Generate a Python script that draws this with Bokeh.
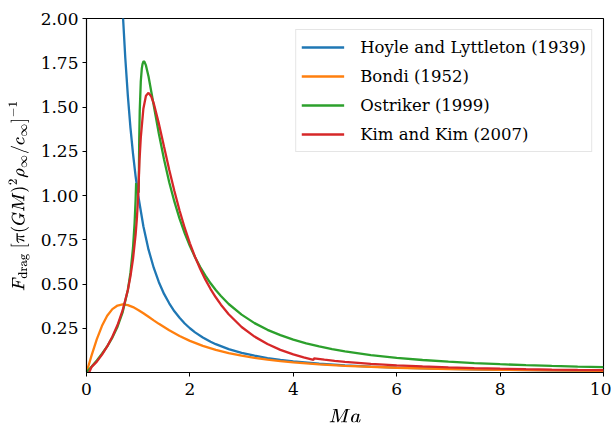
from bokeh.plotting import figure
from bokeh.models import Range1d, FixedTicker, PrintfTickFormatter, Legend, LegendItem
from bokeh.embed import file_html
from bokeh.resources import INLINE

nan = float("nan")

# Hoyle and Lyttleton (1939)
ma_hl = [0.5, 0.6, 0.7, 0.75, 0.8, 0.85, 0.9, 0.95, 1.0, 1.1, 1.2, 1.3, 1.4, 1.5,
         1.6, 1.7, 1.8, 1.9, 2.0, 2.1, 2.25, 2.4, 2.5, 2.75, 3.0, 3.25, 3.5, 3.75, 4.0,
         4.5, 5.0, 5.5, 6.0, 7.0, 8.0, 9.0, 10.0]
f_hl = [4.0, 2.778, 2.041, 1.778, 1.563, 1.384, 1.235, 1.108, 1.0, 0.826, 0.694, 0.592,
        0.510, 0.444, 0.391, 0.346, 0.309, 0.277, 0.25, 0.2268, 0.198, 0.1736, 0.16,
        0.132, 0.111, 0.0947, 0.0816, 0.0711, 0.0625, 0.0494, 0.04, 0.0331, 0.0278,
        0.0204, 0.0156, 0.0123, 0.01]

# Bondi (1952)
ma_b = [0, 0.1, 0.2, 0.3, 0.4, 0.5, 0.6, 0.7, 0.8, 0.9, 1.0, 1.1, 1.2, 1.3, 1.4, 1.6,
        1.8, 2.0, 2.25, 2.5, 2.75, 3.0, 3.25, 3.5, 3.75, 4.0, 4.5, 5, 6, 7, 8, 9, 10]
f_b = [0, 0.0985, 0.1886, 0.2636, 0.3202, 0.3578, 0.3783, 0.3849, 0.3809, 0.3696,
       0.3536, 0.3348, 0.3148, 0.2947, 0.2749, 0.2382, 0.2062, 0.1789, 0.1507, 0.1281,
       0.1098, 0.0949, 0.0827, 0.0726, 0.0641, 0.0571, 0.0459, 0.0377, 0.0267, 0.0198,
       0.0153, 0.0121, 0.0099]

# Ostriker (1999)
ma_o = [0, 0.1, 0.2, 0.3, 0.4, 0.5, 0.6, 0.7, 0.8, 0.85, 0.9, 0.93, 0.95, 0.96, nan,
        1.01, 1.02, 1.03, 1.05, 1.07, 1.085, 1.1, 1.11, 1.12, 1.15, 1.2, 1.3, 1.4, 1.5,
        1.6, 1.7, 1.8, 1.9, 2.0, 2.1, 2.2, 2.3, 2.4, 2.5, 2.6, 2.75, 3.0, 3.25, 3.5,
        3.75, 4.0, 4.25, 4.5, 4.75, 5, 5.5, 6, 6.5, 7, 7.5, 8, 8.5, 9, 9.5, 10]
f_o = [0, 0.0335, 0.0684, 0.1058, 0.1478, 0.1972, 0.2587, 0.3414, 0.4666, 0.5622,
       0.7064, 0.8422, 0.977, 1.070, nan, 1.016, 1.322, 1.481, 1.644, 1.718, 1.744,
       1.756, 1.757, 1.756, 1.735, 1.672, 1.510, 1.349, 1.203, 1.075, 0.965, 0.869,
       0.786, 0.714, 0.651, 0.596, 0.547, 0.504, 0.466, 0.432, 0.387, 0.327, 0.279,
       0.241, 0.211, 0.1855, 0.1645, 0.147, 0.132, 0.119, 0.0986, 0.0829, 0.0707,
       0.0610, 0.0532, 0.0468, 0.0414, 0.0370, 0.0332, 0.0299]

# Kim and Kim (2007)
ma_k = [0.05, 0.1, 0.2, 0.3, 0.4, 0.5, 0.6, 0.7, 0.8, 0.85, 0.9, 0.95, 0.975, 1.0,
        1.025, 1.05, 1.1, 1.15, 1.2, 1.25, 1.3, 1.4, 1.5, 1.6, 1.7, 1.8, 1.9, 2.0, 2.1,
        2.2, 2.3, 2.4, 2.5, 2.6, 2.75, 3.0, 3.25, 3.5, 3.75, 4.0, 4.2, 4.39, 4.4, 4.6,
        4.8, 5, 5.5, 6, 6.5, 7, 7.5, 8, 8.5, 9, 9.5, 10]
f_k = [0.0, 0.032, 0.0617, 0.1007, 0.1473, 0.202, 0.2682, 0.3519, 0.4662, 0.5429,
       0.642, 0.779, 0.8717, 1.0, 1.197, 1.327, 1.490, 1.563, 1.580, 1.561, 1.521,
       1.406, 1.275, 1.146, 1.025, 0.915, 0.8165, 0.730, 0.6525, 0.5846, 0.5246,
       0.4716, 0.425, 0.383, 0.329, 0.257, 0.2028, 0.161, 0.1279, 0.102, 0.0852,
       0.0717, 0.0798, 0.0725, 0.0662, 0.0606, 0.0492, 0.0407, 0.0341, 0.0290, 0.0248,
       0.0215, 0.0187, 0.0164, 0.0145, 0.0129]

labels = ["Hoyle and Lyttleton (1939)", "Bondi (1952)", "Ostriker (1999)", "Kim and Kim (2007)"]
colors = ["#1f77b4", "#ff7f0e", "#2ca02c", "#d62728"]
x_ticks = [0, 2, 4, 6, 8, 10]
y_ticks = [0.25, 0.5, 0.75, 1.0, 1.25, 1.5, 1.75, 2.0]

FONT = "DejaVu Serif"

p = figure(width=611, height=428, output_backend="svg", toolbar_location=None,
           x_range=Range1d(0, 10), y_range=Range1d(0, 2),
           min_border_left=86, min_border_right=8, min_border_top=18, min_border_bottom=53)
p.background_fill_color = "white"
p.border_fill_color = "white"
p.xgrid.visible = False
p.ygrid.visible = False
p.outline_line_color = "black"
p.outline_line_width = 1.1

series = [(ma_hl, f_hl), (ma_b, f_b), (ma_o, f_o), (ma_k, f_k)]
renderers = []
for (xs, ys), c in zip(series, colors):
    r = p.line(xs, ys, line_color=c, line_width=2.3)
    renderers.append(r)

for ax in (p.xaxis[0], p.yaxis[0]):
    ax.axis_line_color = "black"
    ax.axis_line_width = 1.1
    ax.major_tick_in = 0
    ax.major_tick_out = 4
    ax.major_tick_line_width = 1
    ax.minor_tick_line_color = None
    ax.major_label_text_font = FONT
    ax.major_label_text_font_size = "17px"
    ax.major_label_text_color = "black"
    ax.axis_label_text_color = "black"

p.xaxis.ticker = FixedTicker(ticks=x_ticks)
p.yaxis.ticker = FixedTicker(ticks=y_ticks)
p.yaxis.formatter = PrintfTickFormatter(format="%.2f")
p.xaxis.major_label_standoff = 6
p.yaxis.major_label_standoff = 4

p.xaxis.axis_label = r"$$Ma$$"
p.xaxis.axis_label_text_font_size = "16px"
p.xaxis.axis_label_standoff = 11

p.yaxis.axis_label = r"$$F_{\rm drag}\ [\pi (GM)^2 \rho_\infty / c_\infty]^{-1}$$"
p.yaxis.axis_label_text_font_size = "14px"
p.yaxis.axis_label_standoff = 8

items = [LegendItem(label=l, renderers=[r]) for l, r in zip(labels, renderers)]
legend = Legend(items=items, location="top_right", margin=11, padding=5,
                glyph_width=43, glyph_height=24, label_height=24, spacing=5,
                label_standoff=16, label_text_font=FONT, label_text_font_size="16.5px",
                label_text_color="black",
                border_line_color="#cccccc", border_line_width=1,
                background_fill_alpha=0.8)
p.add_layout(legend)

open("out.html", "w").write(file_html(p, INLINE))
